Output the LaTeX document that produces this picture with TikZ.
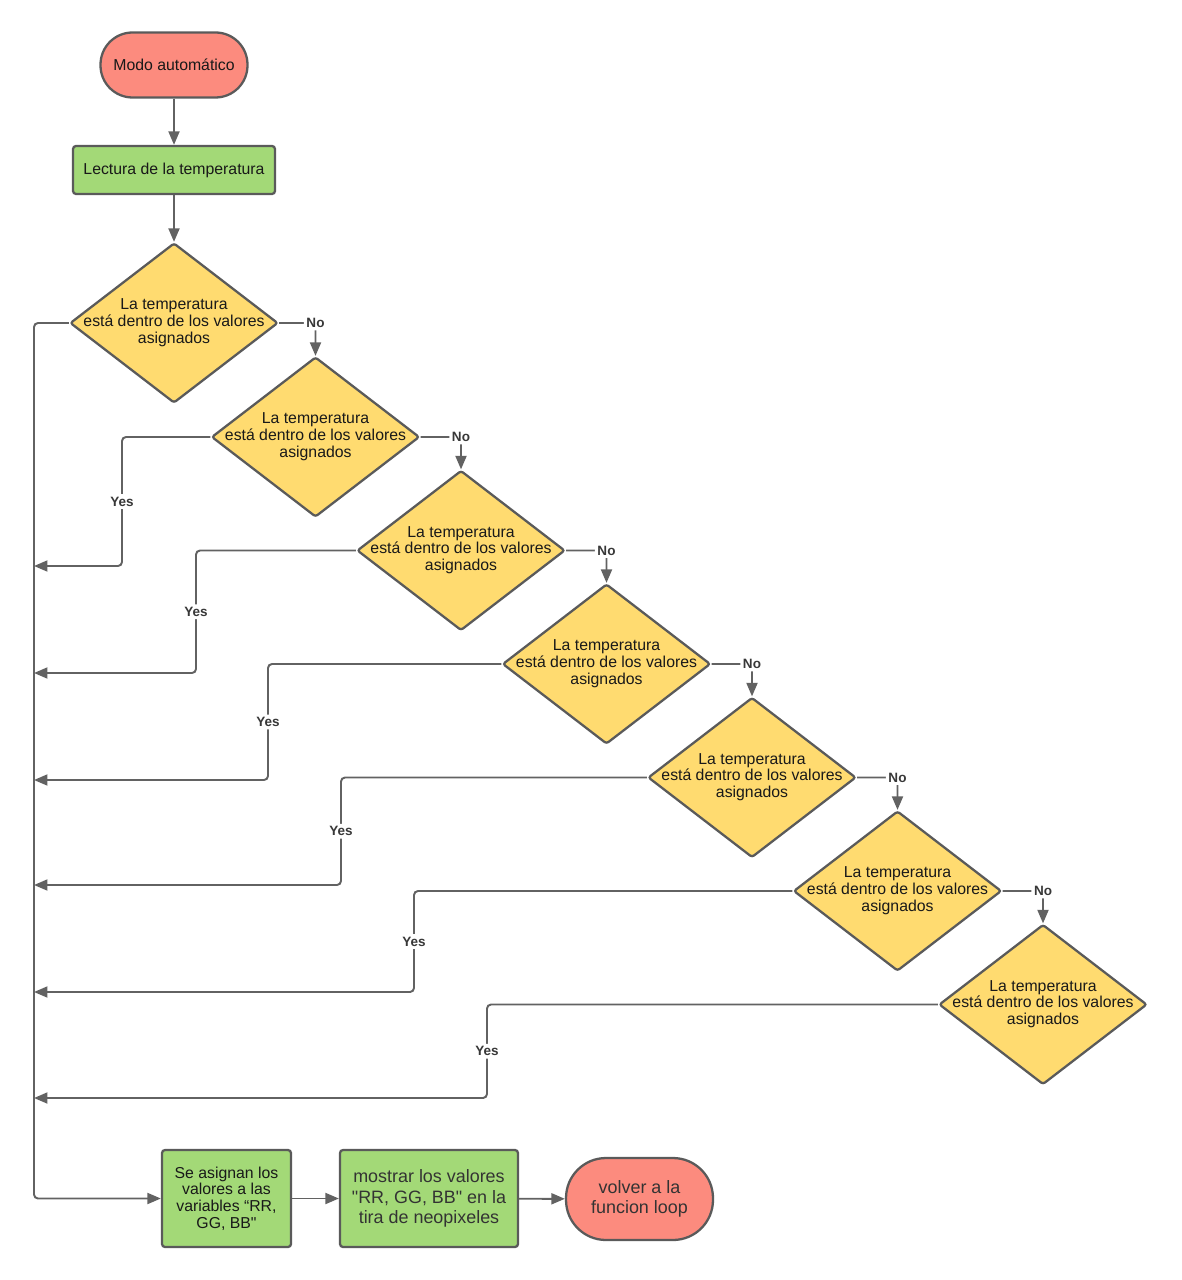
\documentclass[tikz,border=0pt]{standalone}
\usepackage{fontspec}
\setmainfont{Liberation Sans}
\usetikzlibrary{arrows.meta,shapes.geometric}
\definecolor{pill}{HTML}{FC8B7E}
\definecolor{leaf}{HTML}{A3D977}
\definecolor{sun}{HTML}{FFDB70}
\definecolor{edge}{HTML}{5A5A5A}
\definecolor{wire}{HTML}{626262}
\newcommand{\tempcheck}{\makebox[0pt]{\begin{tabular}{@{}c@{}}La temperatura\\está dentro de los valores\\asignados\end{tabular}}}

\begin{document}
\begin{tikzpicture}[x=0.02cm, y=-0.02cm,
		base/.style={draw=edge, line width=1.3pt, text=black!90, font=\fontsize{9}{9.5}\selectfont, align=center, inner sep=0pt},
		terminal/.style={base, fill=pill, rounded corners=0.64cm},
		process/.style={base, fill=leaf, rounded corners=0.06cm},
		decision/.style={base, fill=sun, diamond, rounded corners=0.05cm, minimum width=4.16cm, minimum height=3.2cm},
		bigtext/.style={text=black!80, font=\fontsize{10.2}{11.7}\selectfont},
		flow/.style={draw=wire, line width=1.1pt, rounded corners=0.08cm, -{Triangle[length=0.27cm,width=0.22cm]}},
		answer/.style={fill=white, text=black!78, font=\bfseries\fontsize{7.7}{8}\selectfont, inner sep=1.5pt}]
			%%%%% START %%%%%
			\useasboundingbox (0,0) rectangle (1182,1280);
			
			\node[terminal, minimum width=2.94cm, minimum height=1.3cm] (start) at (174,65) {Modo automático};
			\node[process, minimum width=4.04cm, minimum height=0.96cm] (read) at (174,170) {Lectura de la temperatura};
			
			\node[decision] (d1) at (174,323) {\tempcheck};
			\node[decision] (d2) at (315.5,437) {\tempcheck};
			\node[decision] (d3) at (461,550.5) {\tempcheck};
			\node[decision] (d4) at (606.5,664) {\tempcheck};
			\node[decision] (d5) at (752,777.5) {\tempcheck};
			\node[decision] (d6) at (897.5,891) {\tempcheck};
			\node[decision] (d7) at (1043,1004.5) {\tempcheck};
			
			\node[process, text=black!90, minimum width=2.58cm, minimum height=1.94cm] (assign) at (226.5,1198.5) {Se asignan los\\valores a las\\variables “RR,\\GG, BB\textquotedbl};
			\node[process, bigtext, minimum width=3.56cm, minimum height=1.94cm] (show) at (429,1198.5) {mostrar los valores\\\textquotedbl RR, GG, BB\textquotedbl\ en la\\tira de neopixeles};
			\node[terminal, bigtext, rounded corners=0.8cm, minimum width=2.94cm, minimum height=1.64cm] (back) at (639.5,1199) {volver a la\\funcion loop};
			
			% free ends on the left return line
			\coordinate (turn) at (34,1198.5);
			\coordinate (c2) at (122,566);   \coordinate (e2) at (34,566);
			\coordinate (c3) at (196,673);   \coordinate (e3) at (34,673);
			\coordinate (c4) at (268,780);   \coordinate (e4) at (34,780);
			\coordinate (c5) at (341,885);   \coordinate (e5) at (34,885);
			\coordinate (c6) at (414,992);   \coordinate (e6) at (34,992);
			\coordinate (c7) at (487,1098);  \coordinate (e7) at (34,1098);
			
			\draw[flow] (start) -- (read);
			\draw[flow] (read) -- (d1);
			
			\draw[flow] (d1.east) -| node[answer]{No} (d2.north);
			\draw[flow] (d2.east) -| node[answer]{No} (d3.north);
			\draw[flow] (d3.east) -| node[answer]{No} (d4.north);
			\draw[flow] (d4.east) -| node[answer]{No} (d5.north);
			\draw[flow] (d5.east) -| node[answer]{No} (d6.north);
			\draw[flow] (d6.east) -| node[answer]{No} (d7.north);
			
			\draw[flow] (d2.west) -| node[answer, pos=0.75]{Yes} (c2) -- (e2);
			\draw[flow] (d3.west) -| node[answer, pos=0.75]{Yes} (c3) -- (e3);
			\draw[flow] (d4.west) -| node[answer, pos=0.75]{Yes} (c4) -- (e4);
			\draw[flow] (d5.west) -| node[answer, pos=0.75]{Yes} (c5) -- (e5);
			\draw[flow] (d6.west) -| node[answer, pos=0.75]{Yes} (c6) -- (e6);
			\draw[flow] (d7.west) -| node[answer, pos=0.75]{Yes} (c7) -- (e7);
			
			\draw[flow] (d1.west) -| (turn) -- (assign.west);
			\draw[flow] (assign) -- (show);
			\draw[flow] (show) -- (back);
			%%%%% END %%%%%
\end{tikzpicture}
\end{document}
